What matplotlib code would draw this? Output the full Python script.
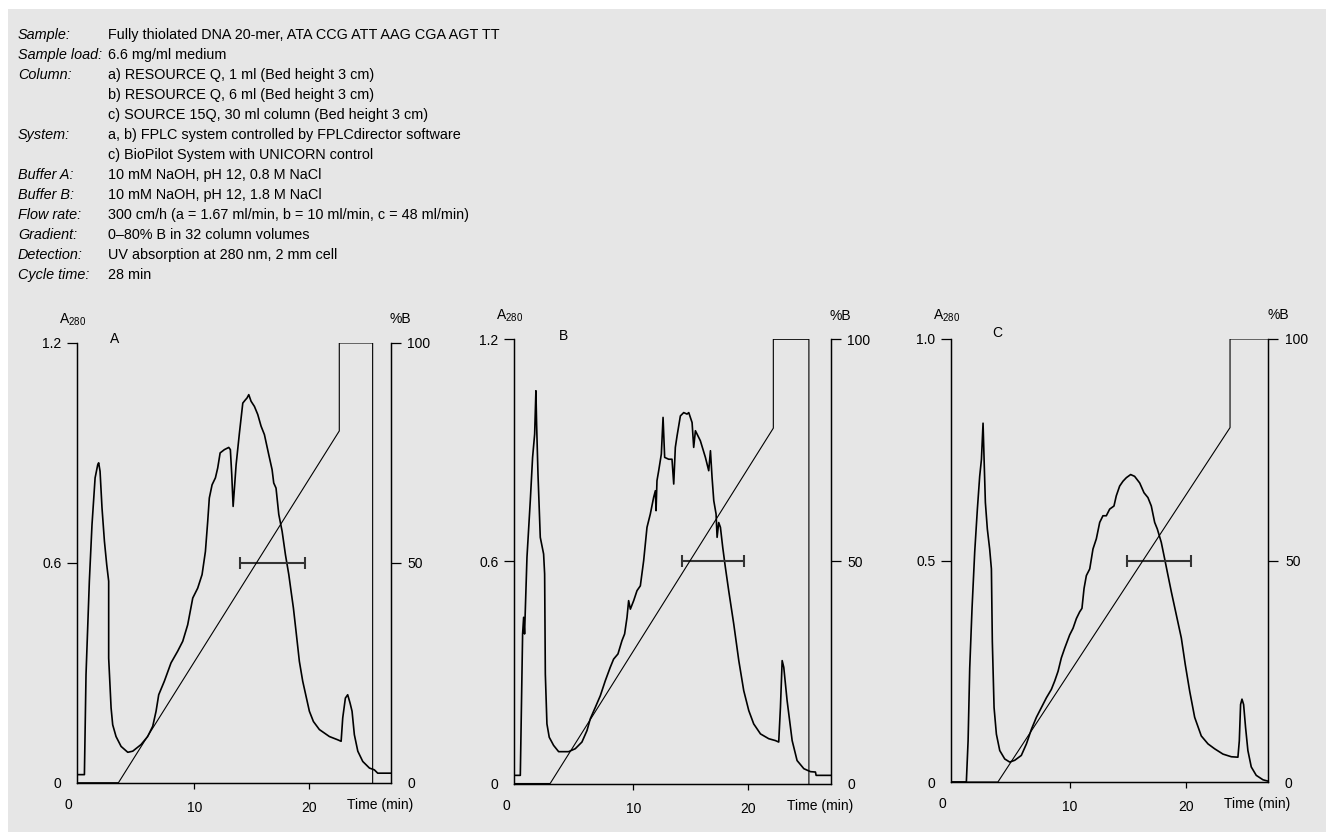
import numpy as np
import matplotlib.pyplot as plt
from matplotlib.patches import Rectangle

plt.rcParams['font.family'] = ['Liberation Sans', 'DejaVu Sans']
plt.rcParams['mathtext.fontset'] = 'custom'
plt.rcParams['mathtext.rm'] = 'Liberation Sans'

# header text
head_keys = ['Sample:', 'Sample load:', 'Column:', '', '', 'System:', '',
             'Buffer A:', 'Buffer B:', 'Flow rate:', 'Gradient:', 'Detection:', 'Cycle time:']
head_vals = ['Fully thiolated DNA 20-mer, ATA CCG ATT AAG CGA AGT TT',
             '6.6 mg/ml medium',
             'a) RESOURCE Q, 1 ml (Bed height 3 cm)',
             'b) RESOURCE Q, 6 ml (Bed height 3 cm)',
             'c) SOURCE 15Q, 30 ml column (Bed height 3 cm)',
             'a, b) FPLC system controlled by FPLCdirector software',
             'c) BioPilot System with UNICORN control',
             '10 mM NaOH, pH 12, 0.8 M NaCl',
             '10 mM NaOH, pH 12, 1.8 M NaCl',
             '300 cm/h (a = 1.67 ml/min, b = 10 ml/min, c = 48 ml/min)',
             '0\u201380% B in 32 column volumes',
             'UV absorption at 280 nm, 2 mm cell',
             '28 min']

# panel A: RESOURCE Q 1 ml
time_a = [-0.23, 0.44, 0.58, 0.87, 1.10, 1.37, 1.60, 1.68, 1.80, 1.97, 2.18, 2.38, 2.55, 2.55,
          2.76, 2.90, 3.19, 3.63, 4.21, 4.64, 5.36, 5.94, 6.38, 6.67, 6.90, 7.39, 7.97, 8.55,
          8.99, 9.42, 9.86, 10.29, 10.67, 10.96, 11.16, 11.30, 11.54, 11.83, 12.03, 12.24,
          12.61, 12.99, 13.13, 13.25, 13.37, 13.63, 13.92, 14.21, 14.44, 14.58, 14.73, 14.93,
          15.22, 15.51, 15.80, 16.09, 16.47, 16.76, 16.90, 17.10, 17.34, 17.63, 17.92, 18.21,
          18.41, 18.61, 18.84, 19.13, 19.42, 19.71, 20.0, 20.35, 20.87, 21.74, 22.47, 22.76,
          22.90, 23.13, 23.33, 23.54, 23.71, 23.91, 24.21, 24.64, 25.22, 25.65, 25.94, 27.07]
a280_a = [0.022, 0.022, 0.295, 0.550, 0.704, 0.832, 0.868, 0.873, 0.850, 0.750, 0.659, 0.595,
          0.550, 0.340, 0.204, 0.158, 0.126, 0.099, 0.083, 0.086, 0.104, 0.126, 0.154, 0.195,
          0.240, 0.277, 0.327, 0.359, 0.386, 0.431, 0.504, 0.531, 0.568, 0.631, 0.713, 0.777,
          0.813, 0.832, 0.859, 0.900, 0.909, 0.915, 0.909, 0.841, 0.754, 0.868, 0.955, 1.036,
          1.045, 1.050, 1.059, 1.041, 1.027, 1.005, 0.973, 0.950, 0.895, 0.854, 0.818, 0.804,
          0.732, 0.686, 0.622, 0.568, 0.522, 0.477, 0.413, 0.331, 0.277, 0.236, 0.195, 0.167,
          0.145, 0.126, 0.117, 0.113, 0.177, 0.231, 0.240, 0.217, 0.195, 0.131, 0.086, 0.058,
          0.040, 0.035, 0.026, 0.026]
grad_t_a = [-0.23, 3.4, 22.6, 22.6, 25.5, 25.5]
grad_b_a = [0, 0, 80, 100, 100, 0]

# panel B: RESOURCE Q 6 ml
time_b = [-0.4, 0.15, 0.35, 0.44, 0.52, 0.73, 1.02, 1.22, 1.40, 1.51, 1.57, 1.69, 1.89, 2.18,
          2.27, 2.33, 2.47, 2.67, 3.05, 3.49, 4.36, 4.94, 5.52, 5.96, 6.25, 6.69, 7.12, 7.56,
          7.99, 8.28, 8.66, 9.01, 9.24, 9.45, 9.59, 9.74, 10.03, 10.32, 10.61, 10.90, 11.19,
          11.48, 11.77, 11.92, 11.98, 12.06, 12.21, 12.44, 12.59, 12.73, 13.08, 13.37, 13.52,
          13.66, 13.81, 14.10, 14.39, 14.68, 14.83, 15.12, 15.26, 15.41, 15.84, 16.28, 16.57,
          16.72, 16.86, 17.01, 17.21, 17.30, 17.44, 17.59, 17.79, 18.02, 18.31, 18.75, 19.19,
          19.62, 20.06, 20.49, 21.08, 21.80, 22.38, 22.67, 22.82, 22.97, 23.11, 23.40, 23.84,
          24.27, 24.86, 25.44, 25.87, 25.93, 27.2]
a280_b = [0.022, 0.022, 0.404, 0.449, 0.404, 0.611, 0.764, 0.881, 0.944, 1.061, 0.971, 0.836,
          0.665, 0.620, 0.566, 0.296, 0.161, 0.125, 0.103, 0.086, 0.086, 0.094, 0.112, 0.143,
          0.175, 0.206, 0.237, 0.278, 0.314, 0.336, 0.350, 0.386, 0.404, 0.449, 0.494, 0.471,
          0.494, 0.521, 0.534, 0.602, 0.692, 0.728, 0.773, 0.791, 0.737, 0.818, 0.845, 0.890,
          0.989, 0.881, 0.876, 0.876, 0.809, 0.908, 0.939, 0.993, 1.002, 0.998, 1.002, 0.975,
          0.908, 0.953, 0.926, 0.881, 0.845, 0.899, 0.827, 0.764, 0.728, 0.665, 0.705, 0.692,
          0.638, 0.584, 0.521, 0.431, 0.332, 0.251, 0.197, 0.161, 0.134, 0.121, 0.116, 0.112,
          0.206, 0.332, 0.314, 0.224, 0.116, 0.062, 0.040, 0.032, 0.031, 0.022, 0.022]
grad_t_b = [-0.4, 2.75, 22.2, 22.2, 25.3, 25.3]
grad_b_b = [0, 0, 80, 100, 100, 0]

# panel C: SOURCE 15Q 30 ml
time_c = [-0.29, 1.06, 1.21, 1.35, 1.55, 1.78, 2.01, 2.21, 2.36, 2.50, 2.59, 2.70, 2.87, 3.07,
          3.22, 3.30, 3.45, 3.65, 3.94, 4.37, 4.80, 5.23, 5.80, 6.24, 6.67, 7.10, 7.53, 7.96,
          8.39, 8.68, 8.97, 9.25, 9.54, 9.97, 10.26, 10.55, 10.83, 11.03, 11.21, 11.41, 11.70,
          11.98, 12.27, 12.56, 12.84, 13.13, 13.42, 13.79, 13.99, 14.28, 14.57, 14.86, 15.23,
          15.57, 16.01, 16.38, 16.72, 17.01, 17.30, 17.53, 17.87, 18.16, 18.39, 18.74, 19.17,
          19.60, 19.94, 20.32, 20.75, 21.32, 21.90, 22.47, 23.19, 23.91, 24.48, 24.60, 24.71,
          24.83, 24.97, 25.14, 25.34, 25.63, 26.06, 26.64, 27.07]
a280_c = [0.0, 0.0, 0.093, 0.257, 0.392, 0.519, 0.616, 0.690, 0.728, 0.810, 0.728, 0.631, 0.571,
          0.526, 0.481, 0.317, 0.168, 0.108, 0.071, 0.052, 0.045, 0.049, 0.060, 0.086, 0.119,
          0.146, 0.168, 0.190, 0.209, 0.228, 0.250, 0.280, 0.302, 0.332, 0.347, 0.369, 0.384,
          0.392, 0.437, 0.466, 0.481, 0.526, 0.549, 0.586, 0.601, 0.601, 0.616, 0.623, 0.646,
          0.668, 0.679, 0.687, 0.694, 0.690, 0.675, 0.653, 0.642, 0.623, 0.586, 0.571, 0.541,
          0.504, 0.474, 0.429, 0.377, 0.325, 0.265, 0.205, 0.146, 0.104, 0.086, 0.075, 0.063,
          0.057, 0.056, 0.093, 0.175, 0.187, 0.175, 0.123, 0.071, 0.034, 0.015, 0.005, 0.002]
grad_t_c = [-0.29, 3.78, 23.8, 23.8, 27.1]
grad_b_c = [0, 0, 80, 100, 100]

# collected pool (start, end, level)
pools = [(14.0, 19.6, 0.6), (14.2, 19.65, 0.6), (14.9, 20.4, 0.5)]

panel_names = ['A', 'B', 'C']
ymaxes = [1.2, 1.2, 1.0]
yticks = [[0, 0.6, 1.2], [0, 0.6, 1.2], [0, 0.5, 1.0]]
ytick_labels = [['0', '0.6', '1.2'], ['0', '0.6', '1.2'], ['0', '0.5', '1.0']]
xlims = [(-0.23, 27.07), (-0.4, 27.2), (-0.29, 27.1)]
name_pos = [(3.1, 1.21), (3.9, 1.21), (3.7, 1.013)]

W, H = 1326, 832
fig = plt.figure(figsize=(W / 100, H / 100), dpi=100)
fig.patch.set_facecolor('white')
bg = '#e6e6e6'
fig.patches.append(Rectangle((8 / W, 0), 1, 1 - 9 / H, transform=fig.transFigure,
                             facecolor=bg, edgecolor='none', zorder=-10))

for i, (k, v) in enumerate(zip(head_keys, head_vals)):
    y = 1 - (35 + 20 * i) / H
    fig.text(18 / W, y, k, fontsize=10.4, style='italic', va='center')
    fig.text(108 / W, y, v, fontsize=10.4, va='center')

# axes boxes in pixels: left, right, top, bottom
boxes = [(76.7, 390.7, 343, 782.7), (514, 830.7, 339.3, 783.5), (950.7, 1268.3, 339, 782)]

traces = [(time_a, a280_a, grad_t_a, grad_b_a),
          (time_b, a280_b, grad_t_b, grad_b_b),
          (time_c, a280_c, grad_t_c, grad_b_c)]

for n in range(3):
    l, r, t, b = boxes[n]
    ax = fig.add_axes([l / W, (H - b) / H, (r - l) / W, (b - t) / H])
    ax2 = ax.twinx()
    ax.set_facecolor('none')
    ax2.set_facecolor('none')
    tt, aa, gt, gb = traces[n]
    ax.plot(tt, aa, color='black', lw=1.2, zorder=3)
    ax2.plot(gt, gb, color='black', lw=0.8)
    p0, p1, lev = pools[n]
    ax.errorbar([(p0 + p1) / 2], [lev], xerr=[(p1 - p0) / 2], color='#333333', lw=1.5,
                capsize=4, capthick=1.5, fmt='none', zorder=4)

    ax.set_xlim(*xlims[n])
    ax.set_ylim(0, ymaxes[n])
    ax2.set_ylim(0, 100)

    for a in (ax, ax2):
        a.spines['top'].set_visible(False)
        for s in a.spines.values():
            s.set_linewidth(0.9)

    ax.set_yticks(yticks[n])
    ax.set_yticklabels(ytick_labels[n], fontsize=10)
    ax.tick_params(axis='y', length=7, width=0.9, pad=4)
    ax.yaxis.get_major_ticks()[0].tick1line.set_visible(False)

    ax2.set_yticks([0, 50, 100])
    ax2.set_yticklabels(['0', '50', '100'], fontsize=10)
    ax2.tick_params(axis='y', length=7, width=0.9, pad=5)
    ax2.yaxis.get_major_ticks()[0].tick2line.set_visible(False)

    ax.set_xticks([10, 20])
    ax.set_xticklabels(['10', '20'], fontsize=10)
    ax.tick_params(axis='x', length=4, width=0.9, pad=9)
    ax.text(-8 / (r - l), -0.05, '0', transform=ax.transAxes, ha='center', va='center',
            fontsize=10)
    ax.text(0.966, -0.05, 'Time (min)', transform=ax.transAxes, ha='center', va='center',
            fontsize=10)

    ax.annotate(r'A$_{280}$', xy=(0, 1), xycoords='axes fraction', xytext=(-3, 17),
                textcoords='offset points', ha='center', va='center', fontsize=10)
    ax.annotate('%B', xy=(1, 1), xycoords='axes fraction', xytext=(7, 17),
                textcoords='offset points', ha='center', va='center', fontsize=10)
    ax.text(name_pos[n][0], name_pos[n][1], panel_names[n], fontsize=10, ha='center',
            va='center')

fig.savefig('out.png', dpi=100, facecolor=fig.get_facecolor())
